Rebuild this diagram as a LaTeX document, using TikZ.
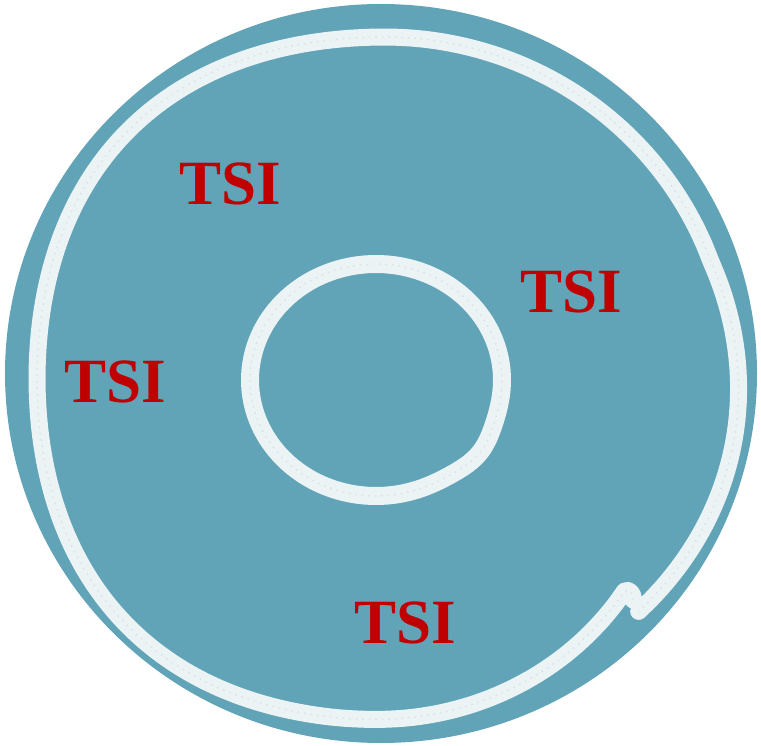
\documentclass[tikz,border=0pt]{standalone}
\usepackage{fontspec}
\setmainfont{Liberation Serif}
\begin{document}
\begin{tikzpicture}[x=1pt,y=-1pt,
  declare function={
    rampo(\t)=max(0,(100-\t)/58);
    fo(\t)=1+0.035*sin(2*\t)*sin(2*\t)*(cos(\t)<0)-0.07*rampo(\t)*rampo(\t)+0.022*(\t>340)*sin(max(0,\t-340)/63*180);
    gi(\t)=(\t-38)/14;
    fi(\t)=1+0.035*exp(max(-20,-gi(\t)*gi(\t)));
  }]
\definecolor{disc}{RGB}{97,164,184}
\definecolor{chalk}{RGB}{244,248,249}
\definecolor{tsired}{RGB}{192,0,0}
\tikzset{
  chalkline/.style={draw=chalk, line width=#1, line cap=round, line join=round, opacity=0.95},
  chalkgrain/.style={draw=disc!40!white, line width=1.4pt, dash pattern=on 1.5pt off 5pt, opacity=0.6},
  label/.style={text=tsired, font=\bfseries\fontsize{63}{63}\selectfont, inner sep=0pt, anchor=center}
}
\useasboundingbox (0,0) rectangle (761,746);
% disc
\fill[disc] (381,373.5) ellipse [x radius=376, y radius=369.5];
% outer chalk loop
\def\outerpath{(633,600) .. controls (634,593) and (629,589) .. (625,591)
  -- plot[smooth, variable=\t, domain=42:403, samples=121]
  ({384.5+347.5*fo(\t)*cos(\t)}, {378.5+341.5*fo(\t)*sin(\t)})}
\draw[chalkline=17pt] \outerpath;
\draw[chalkgrain] \outerpath;
% inner chalk circle
\def\innerpath{plot[smooth cycle, variable=\t, domain=0:355, samples=72]
  ({376+126*fi(\t)*cos(\t)}, {380+116*fi(\t)*sin(\t)})}
\draw[chalkline=18pt] \innerpath;
\draw[chalkgrain] \innerpath;
% labels
\node[label] (t1) at (230,184) {TSI};
\node[label] (t2) at (571,292) {TSI};
\node[label] (t3) at (115,382) {TSI};
\node[label] (t4) at (405,623) {TSI};
\end{tikzpicture}
\end{document}
